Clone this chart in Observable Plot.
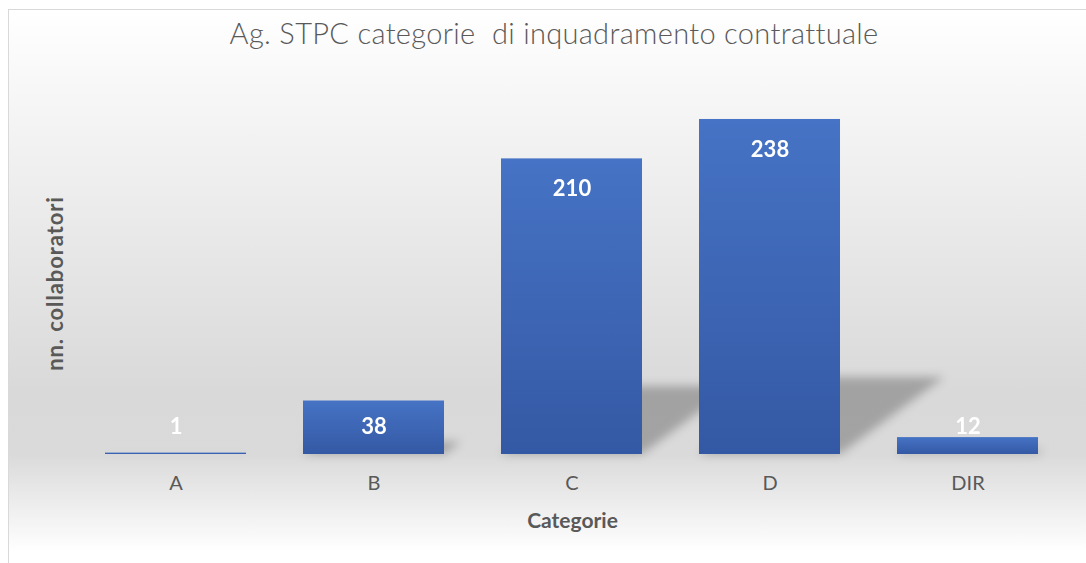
<!DOCTYPE html>
<html>
<head>
<meta charset="utf-8">
<script src="https://cdn.jsdelivr.net/npm/d3@7"></script>
<script src="https://cdn.jsdelivr.net/npm/@observablehq/plot@0.6"></script>
<style>
  html, body { margin: 0; padding: 0; background: #ffffff; overflow: hidden; width: 1086px; height: 563px; }
  #chart {
    position: absolute; left: 9px; top: 10px; width: 1090px; height: 570px;
    outline: 1px solid #d9d9d9;
    background: linear-gradient(to bottom, #ffffff 0%, #d9d9d9 67%, #dadada 78%, #ffffff 95%, #ffffff 100%);
    font-family: Lato, "Open Sans", sans-serif;
  }
  #title {
    position: absolute; left: 0; top: 8.3px; width: 1090px; text-align: center;
    font-size: 29px; letter-spacing: 0.32px; line-height: 1; color: #595959; white-space: pre; font-weight: 300;
  }
  #plot { position: absolute; left: 0; top: 60px; }
</style>
</head>
<body>
<div id="chart">
  <div id="title">Ag. STPC categorie  di inquadramento contrattuale</div>
  <div id="plot"></div>
</div>
<script>
const categories = ["A", "B", "C", "D", "DIR"];
const values = [1, 38, 210, 238, 12];
const yLabel = "nn. collaboratori";
const xLabel = "Categorie";
const labelFloor = 41; // data labels never sit lower than this value

const data = categories.map((c, i) => ({cat: c, value: values[i]}));

const SHADOW_FILL = "#010101";
const YLABEL_FILL = "#595958";

const svg = Plot.plot({
  width: 1090,
  height: 481,
  marginLeft: 70,
  marginRight: 34,
  marginTop: 18,
  marginBottom: 97,
  style: {background: "transparent", fontFamily: "Lato, 'Open Sans', sans-serif", overflow: "visible"},
  x: {domain: categories, paddingInner: 0.2864, paddingOuter: 0.1206, label: null},
  y: {domain: [0, 260], axis: null},
  marks: [
    Plot.barY(data, {x: "cat", y: "value", fill: SHADOW_FILL, fillOpacity: 0.25, ariaLabel: "shadow"}),
    Plot.barY(data, {x: "cat", y: "value", fill: "url(#barGrad)", ariaLabel: "bars"}),
    Plot.text(data, {
      x: "cat", y: d => Math.max(d.value, labelFloor), text: d => String(d.value),
      dy: 30, fill: "#ffffff", fontWeight: "bold", fontSize: 22, lineAnchor: "middle"
    }),
    Plot.axisX({tickSize: 0, tickPadding: 21, fontSize: 20, fill: "#595959", color: "#595959", label: null}),
    Plot.text([yLabel], {
      frameAnchor: "left", text: d => d, rotate: -90, dx: -24, dy: 12,
      textAnchor: "middle", lineAnchor: "middle",
      fontWeight: "bold", fontSize: 22, fill: YLABEL_FILL
    }),
    Plot.text([xLabel], {
      frameAnchor: "bottom", text: d => d, dy: 67, textAnchor: "middle",
      fontWeight: "bold", fontSize: 21, fill: "#595959", lineAnchor: "middle"
    })
  ]
});

// gradient + blur definitions
const ns = "http://www.w3.org/2000/svg";
const defs = document.createElementNS(ns, "defs");
const grad = document.createElementNS(ns, "linearGradient");
grad.setAttribute("id", "barGrad");
grad.setAttribute("x1", "0"); grad.setAttribute("y1", "0");
grad.setAttribute("x2", "0"); grad.setAttribute("y2", "1");
[["0%", "#4673c5"], ["100%", "#3459a4"]].forEach(([o, c]) => {
  const st = document.createElementNS(ns, "stop");
  st.setAttribute("offset", o); st.setAttribute("stop-color", c);
  grad.appendChild(st);
});
defs.appendChild(grad);
const filt = document.createElementNS(ns, "filter");
filt.setAttribute("id", "shadowBlur");
filt.setAttribute("filterUnits", "userSpaceOnUse");
filt.setAttribute("x", "0"); filt.setAttribute("y", "0");
filt.setAttribute("width", "1090"); filt.setAttribute("height", "481");
const blur = document.createElementNS(ns, "feGaussianBlur");
blur.setAttribute("stdDeviation", "5");
filt.appendChild(blur);
defs.appendChild(filt);
svg.insertBefore(defs, svg.firstChild);

// perspective shadow: shear and flatten each shadow bar around its baseline
const s = 0.23, t = 1.35;
let shadowRects = Array.from(svg.querySelectorAll('g[aria-label="shadow"] rect'));
if (!shadowRects.length) {
  svg.querySelectorAll("rect").forEach(r => {
    const g = r.parentNode;
    if (((g.getAttribute && g.getAttribute("fill")) || "").toLowerCase() === SHADOW_FILL) shadowRects.push(r);
  });
}
shadowRects.forEach(r => {
  const y = +r.getAttribute("y"), h = +r.getAttribute("height");
  const yb = y + h;
  r.setAttribute("transform", `translate(0,${yb}) matrix(1,0,${-s * t},${s},0,0) translate(0,${-yb})`);
});
if (shadowRects.length) {
  // wrap the shadow group so the blur works in screen space
  const g = shadowRects[0].parentNode;
  const wrap = document.createElementNS(ns, "g");
  wrap.setAttribute("filter", "url(#shadowBlur)");
  g.parentNode.insertBefore(wrap, g);
  wrap.appendChild(g);
}

// letter spacing for the vertical label (Calibri is wider than Lato here)
svg.querySelectorAll("g").forEach(g => {
  if ((g.getAttribute("fill") || "").toLowerCase() === YLABEL_FILL) g.setAttribute("letter-spacing", "0.9");
});

document.getElementById("plot").appendChild(svg);
</script>
</body>
</html>
